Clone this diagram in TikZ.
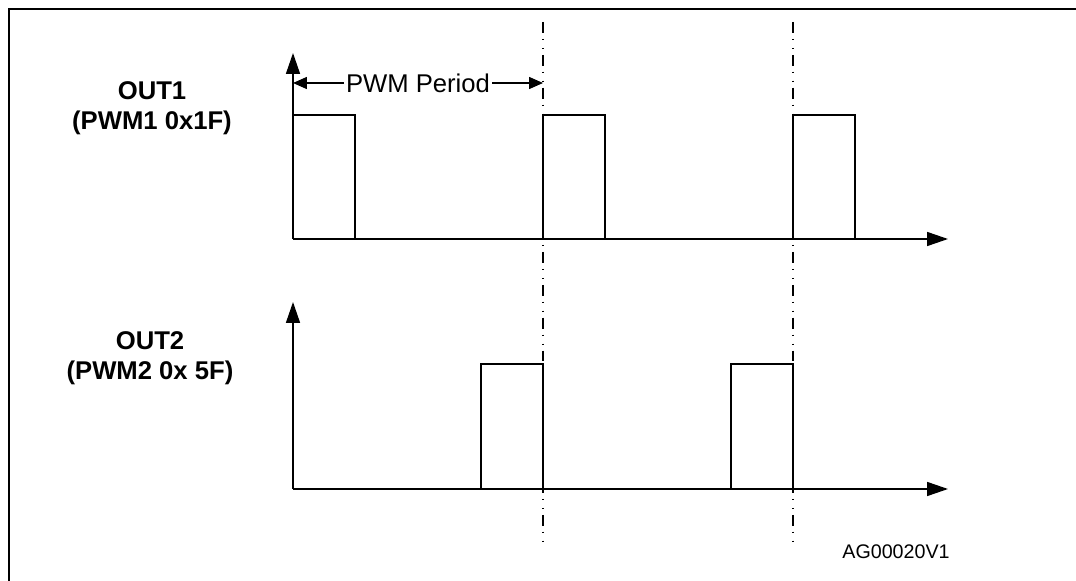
\documentclass[tikz,border=0pt]{standalone}
\usepackage{fontspec}
\setmainfont{Liberation Sans}
\usepackage{tikz}
\usetikzlibrary{arrows.meta}

\begin{document}
\begin{tikzpicture}[x=0.02cm, y=-0.02cm, line width=0.9pt,
  axis/.style={-{Triangle[length=0.42cm, width=0.28cm]}},
  span/.style={{Triangle[length=0.28cm, width=0.24cm]}-{Triangle[length=0.28cm, width=0.24cm]}},
  sync/.style={line width=0.75pt, dash pattern=on 6.2pt off 3.4pt on 0.6pt off 4.5pt on 0.6pt off 3.4pt},
  lbl/.style={font=\fontsize{14.6}{17.2}\selectfont\bfseries, align=center}]
  \useasboundingbox (0,0) rectangle (1076,581);

  % Frame
  \draw[line width=1.6pt] (1076,9) -- (9,9) -- (9,581);

  % Period markers
  \draw[sync] (543,22) -- (543,545);
  \draw[sync] (793,22) -- (793,545);

  % OUT1
  \draw[axis] (293,239) -- (293,53);
  \draw[axis] (293,239) -- (948,239);
  \draw (293,115) -- (355,115) -- (355,239);
  \draw (543,239) -- (543,115) -- (605,115) -- (605,239);
  \draw (793,239) -- (793,115) -- (855,115) -- (855,239);
  \node[lbl] (out1) at (152,108) {OUT1\\(PWM1 0x1F)};

  % PWM period
  \coordinate (p0) at (293,83);
  \coordinate (p1) at (543,83);
  \draw[span] (p0) -- (p1) node[midway, fill=white, inner sep=1pt, font=\fontsize{14.6}{17}\selectfont] (period) {PWM Period};

  % OUT2
  \draw[axis] (293,489) -- (293,302);
  \draw[axis] (293,489) -- (948,489);
  \draw (481,489) -- (481,364) -- (543,364) -- (543,489);
  \draw (731,489) -- (731,364) -- (793,364) -- (793,489);
  \node[lbl] (out2) at (150,358) {OUT2\\(PWM2 0x 5F)};

  \node[font=\fontsize{11.2}{13}\selectfont] (ref) at (896,552) {AG00020V1};
\end{tikzpicture}
\end{document}
